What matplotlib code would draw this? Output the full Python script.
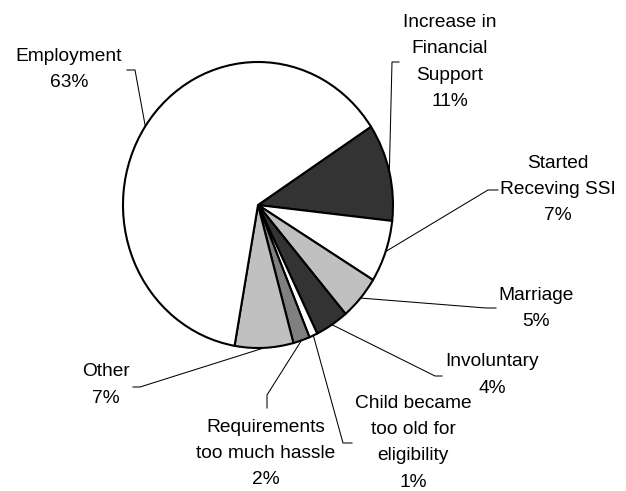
import numpy as np
import matplotlib
matplotlib.use('Agg')
import matplotlib.pyplot as plt

plt.rcParams['font.family'] = ['Liberation Sans', 'DejaVu Sans']

# pie data, clockwise from the top right
labels = ['Increase in\nFinancial\nSupport', 'Started\nReceving SSI', 'Marriage',
          'Involuntary', 'Child became\ntoo old for\neligibility',
          'Requirements\ntoo much hassle', 'Other', 'Employment']
values = [11, 7, 5, 4, 1, 2, 7, 63]
colors = ['#333333', '#ffffff', '#c0c0c0', '#333333', '#ffffff',
          '#808080', '#c0c0c0', '#ffffff']

# label layout in pixels (y down): text centre x, first line y, elbow, line end
label_pos = [
    (450, 22, (392, 62), (399, 62)),
    (558, 163, (488, 190), (498, 190)),
    (536, 295, (486, 308), (496, 308)),
    (492, 362, (435, 376), (442, 376)),
    (413, 403, (343, 443), (352, 443)),
    (266, 427, (267, 395), (267, 408)),
    (106, 372, (140, 387), (133, 387)),
    (69, 56, (135, 70), (127, 70)),
]
line_step = 26.5

W, H = 626, 491
fig = plt.figure(figsize=(W / 100, H / 100), dpi=100)

# pie box (slightly taller than wide as in the original)
px0, px1, py0, py1 = 123, 393, 62, 348
ax = fig.add_axes([px0 / W, 1 - py1 / H, (px1 - px0) / W, (py1 - py0) / H])
wedges, _ = ax.pie(values, colors=colors, startangle=33.2, counterclock=False,
                   wedgeprops=dict(edgecolor='black', linewidth=1.5))
ax.set_aspect('auto')
ax.set_xlim(-1.0, 1.0)
ax.set_ylim(-1.0, 1.0)
ax.axis('off')

# overlay for labels and leader lines, in pixel units
ov = fig.add_axes([0, 0, 1, 1], zorder=3)
ov.set_xlim(0, W)
ov.set_ylim(H, 0)
ov.axis('off')
ov.patch.set_alpha(0)

to_ov = ax.transData + ov.transData.inverted()

for w, lab, v, (tx, ty, elbow, end) in zip(wedges, labels, values, label_pos):
    mid = np.deg2rad((w.theta1 + w.theta2) / 2)
    ex, ey = to_ov.transform((np.cos(mid), np.sin(mid)))
    ov.plot([ex, elbow[0], end[0]], [ey, elbow[1], end[1]],
            color='black', linewidth=0.75)
    lines = lab.split('\n') + [f'{v}%']
    for i, s in enumerate(lines):
        ov.text(tx, ty + i * line_step, s, ha='center', va='center',
                fontsize=13.8, color='black')

fig.savefig('out.png', dpi=100, facecolor='white')
